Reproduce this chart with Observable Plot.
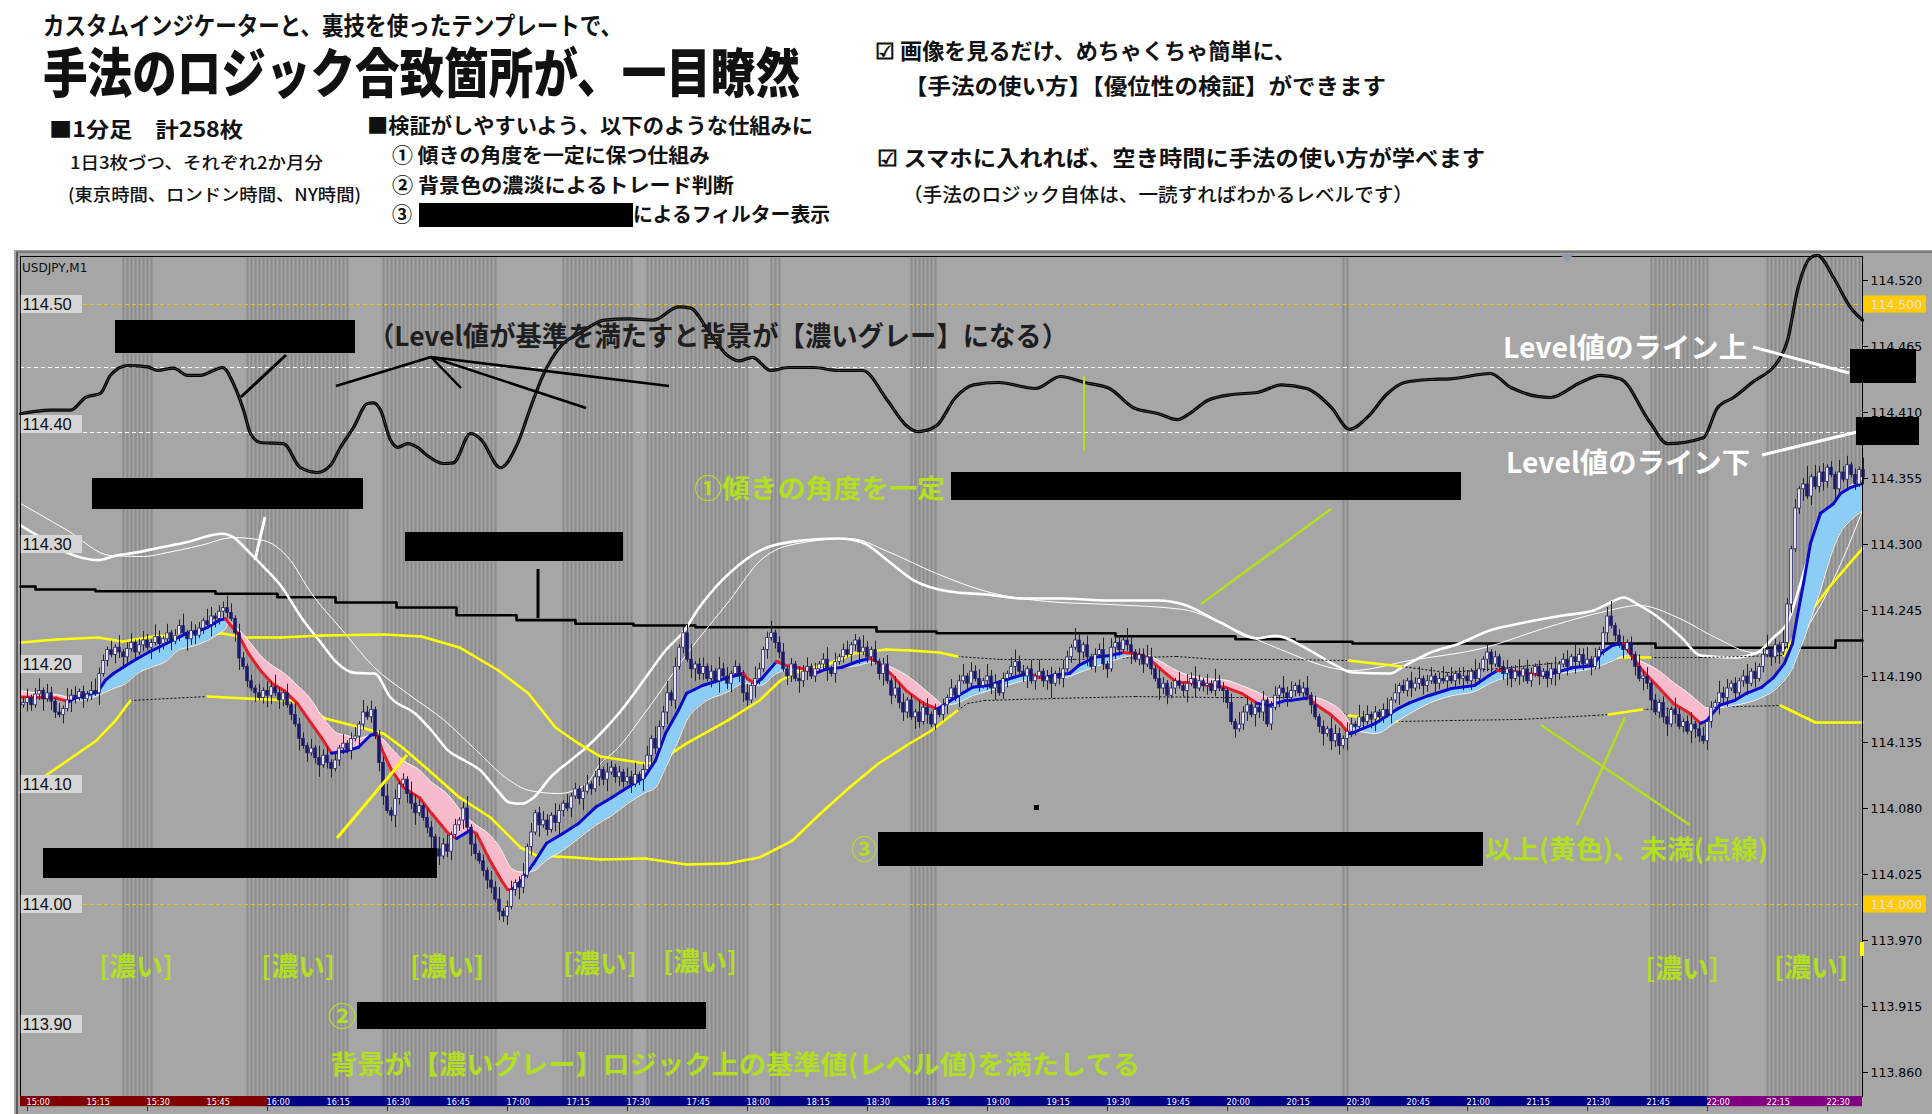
<!DOCTYPE html>
<html lang="ja"><head><meta charset="utf-8"><title>USDJPY M1</title>
<script src="https://cdn.jsdelivr.net/npm/d3@7"></script>
<script src="https://cdn.jsdelivr.net/npm/@observablehq/plot@0.6"></script>
<style>
html,body{margin:0;padding:0;background:#fff}
#page{position:relative;width:1932px;height:1114px;overflow:hidden;font-family:"Noto Sans CJK JP","Noto Sans CJK SC",sans-serif}
#win{position:absolute;left:14px;top:250px;width:1918px;height:864px;background:#a6a6a6}
#edge{position:absolute;left:16px;top:251px;width:1916px;height:863px;border-left:2px solid #5a5a5a;border-top:2px solid #7a7a7a;box-sizing:border-box}
#chart{position:absolute;left:15px;top:250px}
.t{position:absolute;white-space:nowrap;line-height:1;transform-origin:0 50%}
#ann{position:absolute;left:0;top:0}
</style></head><body>
<div id="page"><div id="win"></div><div id="edge"></div><div id="chart"></div><svg id="ann" width="1932" height="1114"></svg></div>
<script>
// ===== DATA =====
const BASE = 114, PT = 0.001;          // candle / ribbon values are points above 114.000
const FIRST_MINUTE = -1;               // minutes after 15:00
const closePts = [
168,172,166,175,178,171,176,169,160,158, 163,170,174,172,177,171,175,178,176,192,
203,212,208,214,210,206,213,218,210,216, 220,214,218,223,217,221,226,219,224,232,
226,221,228,224,230,236,233,240,238,244, 247,243,238,226,205,198,186,180,176,172,
178,174,181,176,170,176,166,158,150,138, 132,126,130,122,116,124,118,113,120,130,
134,128,138,140,150,160,156,162,140,118, 90,78,74,88,100,104,92,84,76,82,
72,64,56,46,40,50,44,58,66,70, 80,64,50,42,36,28,20,14,4,-6,
-10,-2,12,18,14,24,48,60,76,66, 70,62,74,68,78,84,80,90,96,88,
94,100,96,106,112,104,110,114,106,110, 102,106,100,108,104,112,124,138,130,148,
160,176,170,198,214,226,204,196,200,192, 198,188,194,186,196,190,184,192,198,190,
176,170,182,188,196,212,222,226,218,210, 196,190,200,188,186,194,198,190,196,200,
204,196,192,202,206,212,208,216,220,210, 214,206,212,202,192,200,186,174,180,168,
160,170,156,160,152,164,158,150,162,158, 166,172,180,174,186,190,184,194,188,182,
186,190,180,184,176,188,192,198,202,194, 190,196,186,190,194,186,190,184,192,188,
196,206,214,220,210,216,206,198,208,212, 200,196,214,218,212,220,216,210,204,208,
200,206,196,188,180,184,174,180,186,182, 178,184,188,180,186,182,184,178,186,180,
178,168,152,146,150,160,166,158,164,160, 170,150,164,174,180,176,172,178,182,176,
180,174,166,156,148,142,146,136,142,132, 138,144,150,148,156,152,158,154,160,156,
162,158,170,176,182,178,186,180,184,188, 182,186,190,184,188,186,190,186,192,188,
190,186,194,188,196,204,210,200,206,198, 192,196,188,194,190,196,186,192,198,190,
194,188,196,192,200,204,198,206,202,208, 200,204,198,206,212,226,240,232,224,216,
212,218,208,198,188,190,184,170,160,168, 156,150,162,158,148,152,144,150,146,140,
136,152,164,168,176,172,180,184,176,186, 190,184,194,188,198,208,212,206,216,210,
218,250,296,330,346,350,340,356,348,360, 352,364,358,346,360,354,366,358,350,362,
356];
// estimated wick lengths, one digit per candle (x2.5 points)
const wickUp = ("2312413213 1423121342 2131412312 3214213122 4132214312 2431321213 1324213142 2131423121 3123142312 2413121432 "+
"1321423121 2413121324 1231241312 3214213121 2312413212 1324123142 2413123512 3121423121 2314212412 3121423121 "+
"2413123121 4213123142 3121423121 2131241323 1423121342 2131412312 3214213122 4132214312 2431321213 1324213142 "+
"2131423121 3123142312 2413121432 1321423121 2413121324 1231241312 3214213121 2312413212 1324123142 2413123512 "+
"3121423121 2314212412 3121423121 2413125121 4213126142 3121423121 4").replace(/\s/g,"");
const wickDn = ("1321241321 3142131214 1213242131 2141321312 1423121432 3213412131 2431321214 1312412312 2131421213 3124213241 "+
"1241312312 3142123213 2312421314 1213421312 4121324123 2131241321 1423121342 2131412312 3214213122 1321423121 "+
"2413121324 1231241312 3214213121 2312413212 1324123142 2413123512 3121423121 2314212412 3121423121 2413123121 "+
"4213123142 3121423121 2131241323 1423121342 2131412312 3214213122 4132214312 2431321213 1324213142 2131423121 "+
"3123142312 2413121432 1321423121 2413121324 1231241312 3214213121 2").replace(/\s/g,"");

// level oscillator (black double line at top)
const oscT = [-1.75,5.75,10.75,14.5,18.25,20.75,25,30,32.5,36.5,40,43.25,46.5,48.75,51.5,54,55.75,58.25,64,68.25,72.5,75.75,78.25,81.5,85,86.5,88.25,90.75,92.5,95,97.5,100,104,106.5,110.75,113.25,118.25,122.5,125.75,128.75,133.5,138,144.25,150.25,156.5,162.75,165.75,170.25,175,178,181.25,185.75,190.25,196.5,202.75,208.75,215,219.75,222.75,227.25,232,236.5,242.75,252,258.25,264.25,270.5,276.5,282.75,287.5,290.5,295,301.25,307.5,313.5,319.75,326,330.5,335.25,339.75,344.25,350.5,355.75,365.75,370.75,380.75,388.25,393.25,398.25,405.75,410,419,422.5,426.5,430.75,438.25,440,442.5,445.75,447.5,451.5,455.75,458.75];
const oscP = [114.409,114.412,114.412,114.4225,114.426,114.441,114.449,114.448,114.445,114.447,114.441,114.441,114.445,114.4475,114.434,114.412,114.3925,114.385,114.384,114.364,114.36,114.366,114.381,114.3975,114.4175,114.418,114.412,114.387,114.381,114.384,114.381,114.374,114.3675,114.368,114.3925,114.388,114.364,114.384,114.414,114.44,114.466,114.476,114.487,114.488,114.487,114.498,114.497,114.478,114.4575,114.453,114.456,114.445,114.4475,114.4475,114.445,114.445,114.42,114.399,114.394,114.399,114.4225,114.433,114.435,114.43,114.44,114.435,114.43,114.414,114.409,114.404,114.409,114.42,114.425,114.4267,114.433,114.43,114.414,114.396,114.407,114.425,114.435,114.4375,114.438,114.4425,114.431,114.4225,114.435,114.441,114.438,114.401,114.384,114.389,114.414,114.4225,114.434,114.456,114.47,114.512,114.539,114.541,114.5225,114.4975,114.487];
// thick white MA
const wideT = [-1.75,3.25,10,17.5,22.5,26.5,33.25,40,45.75,48.75,51.5,55,58.25,63.25,68.5,73.5,77.5,81.75,86.75,90.75,97,101,105.25,109.25,113.25,117.5,120.5,123.5,126.5,130.75,135.75,139.75,144,148,151.25,154.5,159.5,164.25,167.75,170.25,178,184.25,193.5,202.75,208.75,215,221.25,230.5,239.75,249,258.25,270.5,282.75,289,298.25,307.5,312,319.75,326.25,331.25,340.75,343.5,350.25,358,365.5,374.25,383.75,391.5,395.25,399,403,407.75,413.5,418.25,426.75,432.5,436.5,440.25,443.25,445.75,449,454,458.75];
const wideP = [114.316,114.306,114.293,114.287,114.291,114.293,114.2975,114.302,114.3075,114.309,114.306,114.295,114.284,114.266,114.239,114.2175,114.201,114.193,114.1925,114.1725,114.159,114.145,114.128,114.12,114.1117,114.095,114.085,114.084,114.089,114.106,114.12,114.131,114.145,114.16,114.174,114.189,114.2117,114.2283,114.2467,114.2575,114.2833,114.2967,114.3033,114.305,114.3017,114.2867,114.2708,114.2608,114.2583,114.255,114.255,114.2533,114.2533,114.25,114.235,114.2217,114.224,114.2133,114.2008,114.1933,114.1925,114.1975,114.2092,114.2175,114.2283,114.235,114.2408,114.245,114.2508,114.2558,114.2492,114.2392,114.2225,114.2075,114.2058,114.21,114.2225,114.2367,114.2675,114.295,114.3175,114.3425,114.3558];
// thin white MA
const thinT = [-1.75,10,20.75,29,35,43.25,51.5,59,65.75,70.5,78.75,86.75,95,104.25,112.25,119.5,125.5,132.75,139.75,143.25,147,154.25,165.5,175.5,183.25,190.25,205.75,215,227.25,239.75,255,270.5,289,301.25,312,331.25,345.5,364.5,379,393.25,403,412.5,422,431.5,439,447.5,454,458.75];
const thinP = [114.3342,114.3117,114.2908,114.29,114.2933,114.2992,114.3058,114.3033,114.2867,114.2617,114.2283,114.1975,114.1758,114.1533,114.1283,114.1058,114.095,114.0925,114.1008,114.1175,114.1283,114.1592,114.2117,114.2533,114.2867,114.2992,114.305,114.2942,114.2758,114.2608,114.2525,114.25,114.2458,114.23,114.2142,114.195,114.2033,114.2142,114.23,114.2433,114.2492,114.2392,114.2225,114.21,114.2117,114.245,114.2892,114.3283];
// black step line
const stepT = [-1.75,2,17,47,62.5,77,92.25,107.25,122.25,137,151.5,167,212.25,227.25,272,302,316.75,331.25,407,452,458.75];
const stepP = [114.265,114.2625,114.261,114.259,114.256,114.2517,114.2475,114.241,114.237,114.234,114.2325,114.231,114.2275,114.226,114.2235,114.221,114.219,114.2175,114.214,114.22,114.22];
// filter bands: y = above threshold (yellow), d = below (dotted)
const upT = [-1.75,7.25,17.5,23.75,31.5,48.75,54.25,63.25,73.5,89,98.5,108,117.75,125.25,132,137.75,143.25,154.5,157.5,164.75,175,183,188.25,193.25,200.5,206.5,214.75,220.75,228,232.5,243.25,261.75,287.25,297.25,314.5,330.25,343.5,355,368.25,380.75,395.25,405.75,418.25,439,443.25,450.75,458.75];
const upP = [114.2183,114.2208,114.2225,114.2192,114.2233,114.2258,114.2225,114.2225,114.2242,114.225,114.2233,114.2142,114.195,114.1758,114.1475,114.1342,114.1233,114.1175,114.1183,114.1342,114.1533,114.17,114.1867,114.195,114.2008,114.2092,114.2125,114.2117,114.21,114.2067,114.2042,114.2042,114.2067,114.2042,114.2042,114.2033,114.1983,114.1933,114.1967,114.2008,114.2058,114.2058,114.2058,114.2075,114.2325,114.2658,114.2967];
const upF = "yyyyyyyyyyyyyyyyyyyyyyyyyyyyy"+"dddddd"+"y"+"dddd"+"y"+"dd"+"yyyy";
const loT = [-1.75,7.5,17.25,22,25.75,45,54.5,66,74.5,84.25,89,93.75,101.25,108,115.75,123.25,127.25,136.75,143.25,154.5,164.75,175,183,191.25,198.25,205.5,212.75,219.75,226,232.5,235,239.25,256.5,277,297.25,314.5,321.5,330.25,342.5,355.75,373.25,391.5,395.25,403.75,418.25,438.25,447,458.75];
const loP = [114.0933,114.1142,114.1367,114.1533,114.17,114.1733,114.1717,114.17,114.155,114.1467,114.1425,114.1308,114.1092,114.0892,114.0725,114.0475,114.0408,114.0392,114.0375,114.0383,114.0333,114.0342,114.0392,114.0533,114.0758,114.0975,114.1175,114.1325,114.145,114.1617,114.1675,114.17,114.1717,114.1733,114.1725,114.1725,114.17,114.1575,114.1525,114.1533,114.1542,114.1575,114.1583,114.1625,114.1642,114.1658,114.1517,114.1517];
const loF = "yyyy"+"d"+"yyyyyyyyyyyyyyyyyyyyyyyy"+"dddddddd"+"y"+"dddd"+"y"+"dd"+"yyy";
// MA ribbon (fast line + slow line), points above 114.000
const ribT = [-1.5,3,7.25,10.25,12.25,17.5,19.5,21.5,24.5,27.5,30.75,34.75,37.75,39.75,42,45,48,49.5,50.5,52.5,55.25,58.25,61.25,64.25,67.5,70.5,73.5,76,77.5,79.75,82.75,85.75,87.25,88.75,91,94,98,101,105.25,107.25,109.25,110.75,112.25,115.25,118.5,120,121,123.5,126.5,129.75,133.75,137.75,142,146,150,154.25,157,159.5,162.75,164.75,168.75,175,179,180,182,183.5,187.25,189.75,193.25,197.25,199.5,203.5,207.5,210.5,212.75,215.75,219.75,224,227.5,229,232,236.25,240.25,246.25,250.5,252.5,254.5,256.5,260.5,262.75,266.75,270.75,274,277,280,283,287.25,290.25,295.25,299.5,303.5,307.5,310.5,314.5,315.75,320.5,321.5,325.5,328.25,330.25,331.25,337,342.5,345.5,350.25,356,361.75,365.5,367.5,369.5,374.25,379,381.75,386.5,391.5,393.25,396.25,399,400,403.75,407.75,411.5,415.25,418.25,419.75,423,426.75,429.75,433.5,436.5,439.25,441.25,442.5,444,445.75,448.25,451.5,453.25,455.75,458.75];
const fastPts = [173,172.5,172,169,172.5,177,187,192.5,199,205,211,217.5,222.5,226,227,231,237,238,234,226,209,195,184,178,167.5,153,139,126,127,128,131,141,142.5,128,112,97.5,89,76,59,55,59,62,59,39,20,12.5,12,20,34,51,59,67.5,81,89,97.5,106,120,142.5,162,176,182.5,189,192.5,188,184,188,202.5,199,197,193,196,197.5,202.5,205,201.5,192.5,178,167.5,163,166,172.5,181,182.5,189,193,189,189,191,192.5,199,206,207.5,210,209,206,197,185,185,182.5,181,176,167.5,166,170,170,172.5,168,159,151,142.5,143,151,163,168,174,180,182.5,191,195,195,193,191,193,197.5,199,209,216,217.5,212,195,181,167.5,160,151,153,166,170,176,181,189,201,217.5,241,267.5,301,326,334,342.5,347.5,351];
const slowPts = [178,176,175,172.5,170,174,177,180,184,192.5,197.5,203,212,214,216,220,226,230,236,230,220,207.5,199,192.5,182.5,172.5,157.5,147,142.5,141,138,141,140,138,130,120,112,102,91,82.5,74,70,66,59,45,35,30,27,28,37,45,55,66,74,84,93,97.5,114,137,153,167.5,177,184,184,182.5,183,192.5,195,195,196,197,197.5,199,201.5,201.5,198,191,180,170,166,167.5,174,178,184,187.5,188,188,188,190,193,198,202.5,206,207.5,207.5,203,195,191,188,187,182.5,177,172,170,171,172.5,172.5,168,162,153,147,142.5,153,159,167.5,174,177.5,184,187,189,193,192.5,192.5,194,197,199,203,207,207.5,202,195,185,176,167.5,164,164,166,168,172.5,178,187,197,207.5,220,237,262,297,310,320,328];
const fastDirRuns = [["r",4],["b",14],["r",10],["b",5],["r",7],["b",2],["r",5],["b",16],["r",2],["b",2],["r",3],["b",4],["r",5],["b",6],["r",2],["b",6],["r",9],["b",4],["r",4],["b",9],["r",3],["b",6],["r",6],["b",16]];
// background "dark grey" periods (minutes after 15:00)
const darkFrom = [24,55,89,134,155,186,221,329,406,435];
const darkTo   = [31,80,117,151,180,188,227,330,420,458];
// horizontal levels and axis ticks
const goldLevels = [114.5, 114.0];
const whiteLevels = [114.4475, 114.3933];
const rightTicks = [114.52,114.465,114.41,114.355,114.3,114.245,114.19,114.135,114.08,114.025,113.97,113.915,113.86];
const leftLabels = [114.5,114.4,114.3,114.2,114.1,114.0,113.9];
const timeTicks = d3.range(0, 451, 15);
const sessionFrom = [-1.75, 60, 420];
const sessionTo = [60, 420, 458.75];
const sessionName = ["tokyo","london","ny"];

// ===== BUILD =====
const X0=-1.75, X1=458.75, Y0=113.84, Y1=114.54;
const P = v => BASE + v*PT;
const candles = closePts.map((c,i)=>{
  const o = i ? closePts[i-1] : c-2;
  return {t:FIRST_MINUTE+i, o:P(o), c:P(c),
    h:P(Math.max(o,c) + 2.5*(+wickUp[i]||0)), l:P(Math.min(o,c) - 2.5*(+wickDn[i]||0)), up:c>=o};
});
const darkMinutes = darkFrom.flatMap((a,i)=>d3.range(a, darkTo[i]+1));
const tp = (T,Pp)=>T.map((t,i)=>({t, p:Pp[i]}));
const segs = (T,Pp,F)=>T.slice(0,-1).map((t,i)=>({x1:t,y1:Pp[i],x2:T[i+1],y2:Pp[i+1],k:F[i]}));
const bandSegs = segs(upT,upP,upF).concat(segs(loT,loP,loF));
const fastDir = fastDirRuns.map(([k,n])=>k.repeat(n)).join("");
const rib = ribT.map((t,i)=>({t, f:P(fastPts[i]), s:P(slowPts[i]), k:fastDir[i]}));
const ribSegs = rib.slice(1).map((d,i)=>({x1:rib[i].t, y1:rib[i].f, x2:d.t, y2:d.f, k:d.k}));
const sessions = sessionFrom.map((a,i)=>({a, b:sessionTo[i], n:sessionName[i]}));
const sessionColor = {tokyo:"#800000", london:"#000080", ny:"#800080"};
const fmtTime = m => `${15+Math.floor(m/60)}:${String(m%60).padStart(2,"0")}`;
const NAVY = "#1b1b6b";

const chart = Plot.plot({
  width:1917, height:864, marginLeft:5, marginRight:70, marginTop:6, marginBottom:18,
  x:{domain:[X0,X1], axis:null}, y:{domain:[Y0,Y1], axis:null},
  style:{background:"transparent", overflow:"visible", color:"#000"},
  marks:[
    Plot.ruleX(darkMinutes, {x:d=>d, y1:Y0, y2:Y1, stroke:"#8c8c8c", strokeWidth:2.2}),
    Plot.ruleY(goldLevels, {y:d=>d, stroke:"#f2c500", strokeDasharray:"4,3", strokeWidth:1}),
    Plot.ruleY(whiteLevels, {y:d=>d, stroke:"#ffffff", strokeDasharray:"4,3", strokeWidth:1}),
    Plot.line(tp(stepT,stepP), {x:"t", y:"p", curve:"step-after", stroke:"#000", strokeWidth:2.6}),
    Plot.line(tp(thinT,thinP), {x:"t", y:"p", curve:"monotone-x", stroke:"#fff", strokeWidth:1}),
    Plot.line(tp(wideT,wideP), {x:"t", y:"p", curve:"monotone-x", stroke:"#fff", strokeWidth:2.6}),
    Plot.link(bandSegs.filter(d=>d.k==="d"), {x1:"x1",y1:"y1",x2:"x2",y2:"y2", stroke:"#000", strokeWidth:1, strokeDasharray:"2,2"}),
    Plot.link(bandSegs.filter(d=>d.k==="y"), {x1:"x1",y1:"y1",x2:"x2",y2:"y2", stroke:"#ffff00", strokeWidth:2.6, strokeLinecap:"round"}),
    Plot.areaY(rib, {x:"t", y1:"s", y2:d=>Math.max(d.f,d.s), fill:"#8ccdf5", curve:"monotone-x"}),
    Plot.areaY(rib, {x:"t", y1:"s", y2:d=>Math.min(d.f,d.s), fill:"#f6bccb", curve:"monotone-x"}),
    Plot.line(rib, {x:"t", y:"s", stroke:"#f4f4f4", strokeWidth:1, curve:"monotone-x"}),
    Plot.link(ribSegs, {x1:"x1",y1:"y1",x2:"x2",y2:"y2", stroke:d=>d.k==="b"?"#0b0bd0":"#e61e2a", strokeWidth:3, strokeLinecap:"round"}),
    Plot.ruleX(candles, {x:"t", y1:"l", y2:"h", stroke:NAVY, strokeWidth:1}),
    Plot.rect(candles, {x1:d=>d.t-0.32, x2:d=>d.t+0.32, y1:"o", y2:"c", fill:d=>d.up?"#ffffff":NAVY, stroke:NAVY, strokeWidth:0.8}),
    Plot.line(tp(oscT,oscP), {x:"t", y:"p", curve:"monotone-x", stroke:"#000", strokeWidth:3.2}),
    Plot.line(tp(oscT,oscP), {x:"t", y:"p", curve:"monotone-x", stroke:"#4a4a4a", strokeWidth:0.8}),
    Plot.frame({stroke:"#000", strokeWidth:1}),
    Plot.axisY(rightTicks, {anchor:"right", tickSize:5, tickPadding:3, tickFormat:d=>d.toFixed(3), fontSize:12.5, fontFamily:"DejaVu Sans"}),
    Plot.rect(goldLevels, {x1:X1+0.3, x2:X1+16, y1:d=>d-0.0072, y2:d=>d+0.0072, fill:"#ffcc00"}),
    Plot.text(goldLevels, {x:X1, y:d=>d, dx:8, text:d=>d.toFixed(3), textAnchor:"start", fill:"#f3dcec", fontSize:12.5, fontFamily:"DejaVu Sans"}),
    Plot.rect(leftLabels, {x1:X0+0.2, x2:X0+15.5, y1:d=>d-0.0075, y2:d=>d+0.0075, fill:"#d6d6d6"}),
    Plot.text(leftLabels, {x:X0, y:d=>d, dx:2, text:d=>d.toFixed(2), textAnchor:"start", fill:"#111", fontSize:16.5, fontFamily:"Liberation Sans"}),
    Plot.rect(sessions, {x1:"a", x2:"b", y1:Y0-0.0085, y2:Y0, fill:d=>sessionColor[d.n]}),
    Plot.text(timeTicks, {x:d=>d, y:Y0-0.0043, text:fmtTime, textAnchor:"start", dx:-1, fill:"#ffffff", fontSize:9, fontFamily:"DejaVu Sans Condensed, Liberation Sans Narrow, Liberation Sans"}),
    Plot.ruleX(timeTicks.filter((d,i)=>i%2===0), {x:d=>d, y1:Y0-0.0085, y2:Y0-0.0125, stroke:"#333", strokeWidth:1})
  ]
});
document.getElementById("chart").appendChild(chart);

// ===== ANNOTATIONS (layout, pixels) =====
const page = document.getElementById("page");
const LIME = "#b2df1f";
const boxes = [[419,203,633,227],[115,320,355,353],[92,478,363,509],[405,532,623,561],[951,472,1461,500],
  [43,848,437,878],[878,832,1483,866],[357,1002,706,1029],[1850,349,1916,383],[1856,417,1919,445],[1034,805,1039,810]];
const ann = document.getElementById("ann");
const NS = "http://www.w3.org/2000/svg";
const lines = [
  [286,355,241,397,"#000",3],[431,357,336,386,"#000",2.5],[431,357,461,388,"#000",2.5],[431,357,586,408,"#000",2.5],[431,357,669,386,"#000",2.5],
  [538,569,538,618,"#000",3],[265,517,255,560,"#fff",3],[1084,376,1084,451,LIME,2],[1331,509,1201,604,LIME,2.5],
  [337,838,407,755,"#ffff00",3],[1577,825,1625,717,LIME,2.5],[1690,825,1541,725,LIME,2.5],
  [1753,347,1849,373,"#fff",3],[1762,455,1857,432,"#fff",3]];
for (const [x1,y1,x2,y2,c,w] of lines){
  const l=document.createElementNS(NS,"line");
  l.setAttribute("x1",x1);l.setAttribute("y1",y1);l.setAttribute("x2",x2);l.setAttribute("y2",y2);
  l.setAttribute("stroke",c);l.setAttribute("stroke-width",w);ann.appendChild(l);
}
const tri=document.createElementNS(NS,"path");tri.setAttribute("d","M1560,254 L1574,254 L1567,262 Z");tri.setAttribute("fill","#8a9bb0");ann.appendChild(tri);
const yb=document.createElementNS(NS,"rect");yb.setAttribute("x",1860);yb.setAttribute("y",942);yb.setAttribute("width",4);yb.setAttribute("height",14);yb.setAttribute("fill","#ffff00");ann.appendChild(yb);
for (const [a,b,c,d] of boxes){
  const r=document.createElementNS(NS,"rect");
  r.setAttribute("x",a);r.setAttribute("y",b);r.setAttribute("width",c-a);r.setAttribute("height",d-b);r.setAttribute("fill","#000");ann.appendChild(r);
}
const texts = [
  {s:"カスタムインジケーターと、裏技を使ったテンプレートで、", x:43, y:24, size:22, sy:1.12, width:579},
  {s:"手法のロジック合致箇所が、一目瞭然", x:43, y:70, size:46, sy:1.17, width:757, w:900},
  {s:"■1分足　計258枚", x:49, y:128, size:21, width:194},
  {s:"1日3枚づつ、それぞれ2か月分", x:70, y:161, size:17, width:253, w:500},
  {s:"(東京時間、ロンドン時間、NY時間)", x:68, y:193, size:17, width:293, w:500},
  {s:"■検証がしやすいよう、以下のような仕組みに", x:367, y:124, size:21, width:446},
  {s:"① 傾きの角度を一定に保つ仕組み", x:392, y:155, size:20, width:318},
  {s:"② 背景色の濃淡によるトレード判断", x:392, y:185, size:20, width:342},
  {s:"③", x:392, y:214, size:20},
  {s:"によるフィルター表示", x:633, y:214, size:20, width:197},
  {s:"☑ 画像を見るだけ、めちゃくちゃ簡単に、", x:875, y:49, size:22, width:421},
  {s:"【手法の使い方】【優位性の検証】ができます", x:904, y:84, size:22, width:482},
  {s:"☑ スマホに入れれば、空き時間に手法の使い方が学べます", x:877, y:156, size:22, width:608},
  {s:"（手法のロジック自体は、一読すればわかるレベルです）", x:903, y:193, size:19, width:510, w:500},
  {s:"USDJPY,M1", x:22, y:268, size:12, w:400, c:"#111", f:"DejaVu Sans"},
  {s:"（Level値が基準を満たすと背景が【濃いグレー】になる）", x:368, y:334, size:27, width:700, c:"#1e1e1e"},
  {s:"①傾きの角度を一定", x:694, y:487, size:26, width:251, c:LIME},
  {s:"③", x:851, y:848, size:26, width:26, c:LIME},
  {s:"以上(黄色)、未満(点線)", x:1485, y:848, size:26, width:283, c:LIME},
  {s:"②", x:328, y:1015, size:26, width:28, c:LIME},
  {s:"背景が【濃いグレー】ロジック上の基準値(レベル値)を満たしてる", x:330, y:1063, size:26, width:810, c:LIME},
  {s:"Level値のライン上", x:1503, y:346, size:28, width:244, c:"#fff"},
  {s:"Level値のライン下", x:1506, y:461, size:28, width:244, c:"#fff"},
  ...[[99,965],[261,965],[410,965],[563,962],[663,960],[1645,967],[1774,966]].map(([x,y])=>({s:"[濃い]", x, y, size:26, width:74, c:LIME}))
];
for (const t of texts){
  const el=document.createElement("div"); el.className="t"; el.textContent=t.s;
  el.style.left=t.x+"px"; el.style.top=(t.y - t.size*0.5)+"px"; el.style.fontSize=t.size+"px";
  el.style.color=t.c||"#111"; el.style.fontWeight=t.w||700;
  if (t.f) el.style.fontFamily=t.f;
  page.appendChild(el);
  if (t.width){ const w=el.getBoundingClientRect().width; if (w>0) el.style.transform=`scale(${t.width/w},${t.sy||1})`; }
}
</script></body></html>
